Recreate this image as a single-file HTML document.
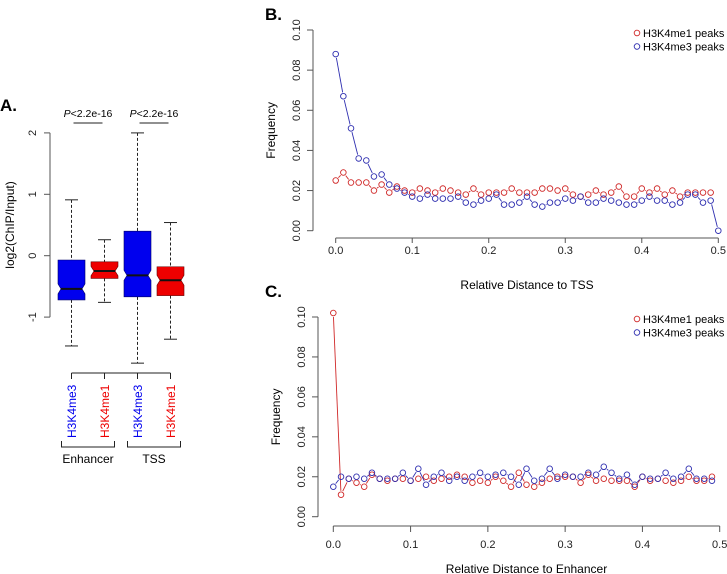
<!DOCTYPE html>
<html><head><meta charset="utf-8"><style>
body{margin:0;background:#fff}
svg{display:block;font-family:"Liberation Sans",sans-serif}
</style></head><body>
<svg id="fig" width="727" height="574" viewBox="0 0 727 574">
<g id="pa"></g>
<g id="pb"></g>
<g id="pc"></g>
</svg>
<script>
const NS="http://www.w3.org/2000/svg";
function mk(p,t,a,txt){const e=document.createElementNS(NS,t);for(const k in a)e.setAttribute(k,a[k]);if(txt!==undefined)e.textContent=txt;p.appendChild(e);return e;}

// ---- Panel A data ----
const boxLabels=["H3K4me3","H3K4me1","H3K4me3","H3K4me1"];
const boxColors=["#0000ee","#ee0000","#0000ee","#ee0000"];
const boxQ1=[-0.72,-0.37,-0.67,-0.65];
const boxMed=[-0.54,-0.25,-0.32,-0.40];
const boxQ3=[-0.07,-0.10,0.40,-0.18];
const boxLo=[-1.47,-0.76,-1.75,-1.36];
const boxHi=[0.91,0.26,2.0,0.54];
const aTicks=[-1,0,1,2];

// ---- Panel B data ----
const bX=[];for(let i=0;i<=50;i++)bX.push(i/100);
const bRed=[0.025,0.029,0.024,0.024,0.024,0.020,0.023,0.019,0.022,0.020,0.019,0.021,0.020,0.019,0.021,0.020,0.019,0.018,0.021,0.018,0.019,0.019,0.019,0.021,0.019,0.019,0.019,0.021,0.021,0.020,0.021,0.018,0.017,0.018,0.020,0.018,0.019,0.022,0.017,0.017,0.021,0.019,0.021,0.018,0.020,0.017,0.019,0.019,0.019,0.019];
const bBlue=[0.088,0.067,0.051,0.036,0.035,0.027,0.028,0.023,0.021,0.019,0.017,0.016,0.018,0.016,0.016,0.016,0.017,0.014,0.013,0.015,0.016,0.018,0.013,0.013,0.014,0.017,0.013,0.012,0.014,0.014,0.016,0.015,0.017,0.014,0.014,0.016,0.015,0.014,0.013,0.013,0.015,0.017,0.015,0.015,0.013,0.014,0.018,0.018,0.014,0.015,0.000];
// ---- Panel C data ----
const cRed=[0.102,0.011,0.019,0.017,0.015,0.021,0.019,0.018,0.019,0.019,0.018,0.019,0.020,0.018,0.019,0.020,0.021,0.020,0.017,0.018,0.017,0.020,0.018,0.015,0.022,0.016,0.015,0.017,0.019,0.020,0.020,0.020,0.017,0.021,0.018,0.019,0.018,0.018,0.018,0.015,0.020,0.018,0.019,0.018,0.017,0.018,0.020,0.018,0.018,0.020];
const cBlue=[0.015,0.020,0.019,0.020,0.019,0.022,0.019,0.019,0.019,0.022,0.018,0.024,0.016,0.020,0.022,0.018,0.020,0.018,0.020,0.022,0.020,0.021,0.022,0.020,0.016,0.024,0.018,0.019,0.024,0.019,0.021,0.020,0.020,0.022,0.021,0.025,0.022,0.019,0.021,0.016,0.020,0.019,0.019,0.022,0.019,0.020,0.024,0.019,0.019,0.018];
const xTicks=[0,0.1,0.2,0.3,0.4,0.5];
const yTicks=[0,0.02,0.04,0.06,0.08,0.10];

// ---- Panel A draw ----
(function(){
const g=document.getElementById('pa');
const ya=v=>255.7-v*61.4;
const cx=i=>71.5+i*33;
mk(g,'text',{x:0,y:111,'font-size':17,'font-weight':'bold',},'A.');
const ax=mk(g,'g',{});
mk(ax,'line',{x1:50,x2:50,y1:ya(2),y2:ya(-1),stroke:'#555'});
aTicks.forEach(t=>{mk(ax,'line',{x1:44,x2:50,y1:ya(t),y2:ya(t),stroke:'#555'});
 mk(ax,'text',{x:36,y:ya(t),'font-size':11,'text-anchor':'middle',transform:`rotate(-90 36 ${ya(t)})`,fill:'#222'},t);});
mk(g,'text',{x:14,y:ya(0.5),'font-size':12,'text-anchor':'middle',transform:`rotate(-90 14 ${ya(0.5)})`,},'log2(ChIP/Input)');
boxLabels.forEach((l,i)=>{
 const b=mk(g,'g',{});
 const x=cx(i),w=13.5,nh=Math.min(5,(ya(boxMed[i])-ya(boxQ3[i]))*0.5);
 mk(b,'line',{x1:x,x2:x,y1:ya(boxHi[i]),y2:ya(boxQ3[i]),stroke:'#222','stroke-dasharray':'3,2'});
 mk(b,'line',{x1:x,x2:x,y1:ya(boxQ1[i]),y2:ya(boxLo[i]),stroke:'#222','stroke-dasharray':'3,2'});
 mk(b,'line',{x1:x-6.5,x2:x+6.5,y1:ya(boxHi[i]),y2:ya(boxHi[i]),stroke:'#222'});
 mk(b,'line',{x1:x-6.5,x2:x+6.5,y1:ya(boxLo[i]),y2:ya(boxLo[i]),stroke:'#222'});
 const m=ya(boxMed[i]),t=ya(boxQ3[i]),bt=ya(boxQ1[i]);
 const nt=Math.max(t,m-nh),nb=Math.min(bt,m+nh);
 mk(b,'polygon',{points:`${x-w},${t} ${x+w},${t} ${x+w},${nt} ${x+w-3},${m} ${x+w},${nb} ${x+w},${bt} ${x-w},${bt} ${x-w},${nb} ${x-w+3},${m} ${x-w},${nt}`,fill:boxColors[i],stroke:i%2?'#600':'#006','stroke-width':0.6});
 mk(b,'line',{x1:x-w+3,x2:x+w-3,y1:m,y2:m,stroke:'#111','stroke-width':2});
 mk(b,'line',{x1:x,x2:x,y1:373,y2:379,stroke:'#222'});
 mk(b,'text',{x:x+4.5,y:438,'font-size':12,fill:boxColors[i],transform:`rotate(-90 ${x+4.5} 438)`,},l);
});
mk(g,'line',{x1:cx(0),x2:cx(3),y1:373,y2:373,stroke:'#222'});
[[0,'Enhancer'],[2,'TSS']].forEach(([i,l])=>{
 const x0=cx(i)-10,x1=cx(i+1)+10;
 mk(g,'path',{d:`M${x0},441 V447 H${x1} V441`,fill:'none',stroke:'#222'});
 mk(g,'text',{x:(x0+x1)/2,y:463,'font-size':12,'text-anchor':'middle',},l);
 mk(g,'line',{x1:cx(i)+2,x2:cx(i+1)-2,y1:123,y2:123,stroke:'#222'});
 mk(g,'text',{x:(cx(i)+cx(i+1))/2,y:117,'font-size':10.5,'text-anchor':'middle',},'P<2.2e-16').innerHTML='<tspan font-style="italic">P</tspan>&lt;2.2e-16';
});
})();

// ---- Line/point panels ----
function panel(id,o){
 const g=document.getElementById(id);
 const sx=v=>o.x0+v*(o.x1-o.x0)/0.5, sy=v=>o.y0-v*(o.y0-o.y1)/0.1;
 mk(g,'text',{x:o.lx,y:o.ly,'font-size':17,'font-weight':'bold',},o.label);
 const ya=mk(g,'g',{});
 mk(ya,'line',{x1:o.ax,x2:o.ax,y1:sy(0),y2:sy(0.1),stroke:'#555'});
 yTicks.forEach(t=>{mk(ya,'line',{x1:o.ax-6,x2:o.ax,y1:sy(t),y2:sy(t),stroke:'#555'});
  const tx=o.ax-13;mk(ya,'text',{x:tx,y:sy(t),'font-size':11,'text-anchor':'middle',transform:`rotate(-90 ${tx} ${sy(t)})`,fill:'#222'},t.toFixed(2));});
 mk(g,'text',{x:o.ax-38,y:sy(0.05),'font-size':12,'text-anchor':'middle',transform:`rotate(-90 ${o.ax-38} ${sy(0.05)})`,},'Frequency');
 const xa=mk(g,'g',{});
 mk(xa,'line',{x1:sx(0),x2:sx(0.5),y1:o.axy,y2:o.axy,stroke:'#555'});
 xTicks.forEach(t=>{mk(xa,'line',{x1:sx(t),x2:sx(t),y1:o.axy,y2:o.axy+o.tl,stroke:'#555'});
  mk(xa,'text',{x:sx(t),y:o.axy+o.lo,'font-size':11,'text-anchor':'middle',fill:'#222'},t.toFixed(1));});
 mk(g,'text',{x:(sx(0)+sx(0.5))/2,y:o.ty,'font-size':12,'text-anchor':'middle',},o.title);
 [[o.red,'#d02a2a','h3k4me1'],[o.blue,'#2f2fb0','h3k4me3']].forEach(([d,c,n])=>{
  const s=mk(g,'g',{});
  const r=2.8;
  for(let i=0;i<d.length-1;i++){
   const xa1=sx(bX[i]),ya1=sy(d[i]),xb=sx(bX[i+1]),yb=sy(d[i+1]);
   const L=Math.hypot(xb-xa1,yb-ya1);if(L<3*r)continue;
   const ux=(xb-xa1)/L,uy=(yb-ya1)/L;
   mk(s,'line',{x1:xa1+ux*r*1.4,y1:ya1+uy*r*1.4,x2:xb-ux*r*1.4,y2:yb-uy*r*1.4,stroke:c,'stroke-width':0.9});
  }
  d.forEach((v,i)=>{const p=mk(s,'circle',{cx:sx(bX[i]),cy:sy(v),r:r,fill:'none',stroke:c,'stroke-width':0.9});
   
   });
 });
 const lg=mk(g,'g',{});
 [['H3K4me1 peaks','#d02a2a'],['H3K4me3 peaks','#2f2fb0']].forEach(([l,c],i)=>{
  const y=o.legy+i*13.5;
  mk(lg,'circle',{cx:637,cy:y,r:2.8,fill:'none',stroke:c,'stroke-width':0.9,});
  mk(lg,'text',{x:643,y:y+4,'font-size':11,},l);
 });
}
panel('pb',{x0:335.7,x1:718.3,y0:230.7,y1:30,ax:313,axy:238,tl:5,lo:16,ty:289,lx:265,ly:20,label:'B.',title:'Relative Distance to TSS',red:bRed,blue:bBlue,legy:33});
panel('pc',{x0:333.3,x1:719.7,y0:516.7,y1:317,ax:318,axy:526,tl:6,lo:22,ty:573,lx:265,ly:297,label:'C.',title:'Relative Distance to Enhancer',red:cRed,blue:cBlue,legy:319});
</script>
</body></html>
